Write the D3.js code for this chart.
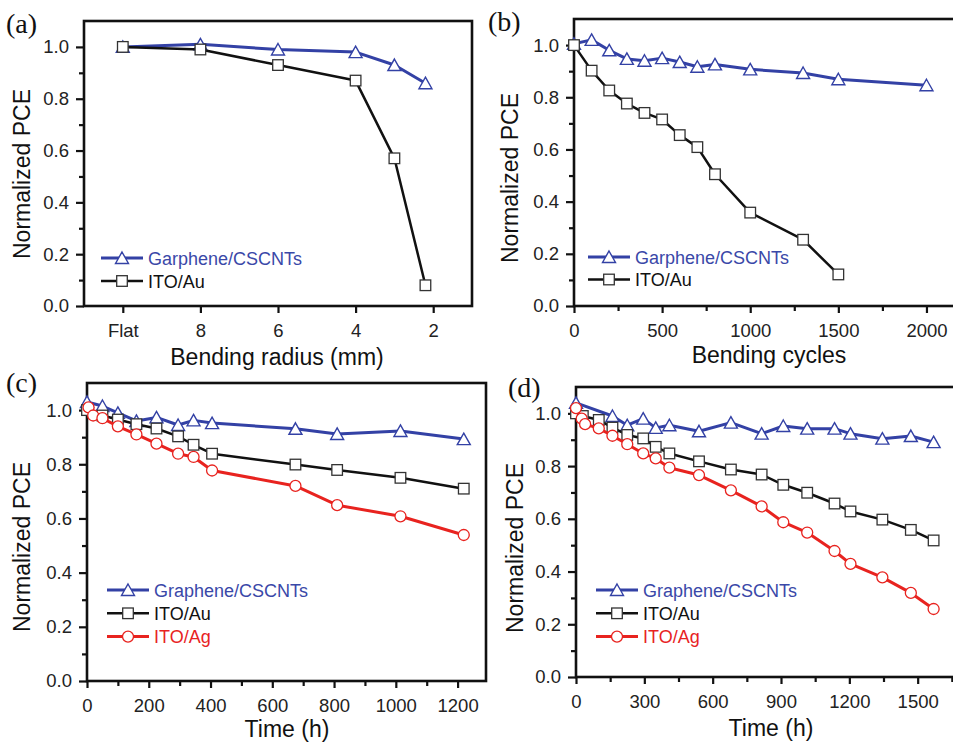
<!DOCTYPE html>
<html lang="en">
<head>
  <meta charset="UTF-8">
  <script src="https://cdn.jsdelivr.net/npm/d3@7"></script>
  <title>Normalized PCE</title>
  <style>
    body { margin: 0; background: #fff; }
    text { font-family: "Liberation Sans", Arial, sans-serif; }
  </style>
</head>
<body>
  <svg width="953" height="743"></svg>
<script>
  // ---- data ----
  // (a) bending radius, Flat drawn at 10 mm
  const radiusX = [10, 8, 6, 4, 3, 2.2];
  const radiusGraphene = [1.0, 1.01, 0.99, 0.98, 0.93, 0.86];
  const radiusITOAu = [1.0, 0.99, 0.93, 0.87, 0.57, 0.08];
  const radiusTicks = [10, 8, 6, 4, 2];
  const radiusTickLabels = ["Flat", "8", "6", "4", "2"];

  // (b) bending cycles
  const cyclesGrapheneX = [0, 100, 200, 300, 400, 500, 600, 700, 800, 1000, 1300, 1500, 2000];
  const cyclesGraphene = [1.005, 1.02, 0.98, 0.947, 0.94, 0.95, 0.935, 0.917, 0.926, 0.907, 0.893, 0.869, 0.846];
  const cyclesITOAuX = [0, 100, 200, 300, 400, 500, 600, 700, 800, 1000, 1300, 1500];
  const cyclesITOAu = [1.0, 0.902, 0.826, 0.776, 0.74, 0.715, 0.655, 0.609, 0.505, 0.358, 0.254, 0.121];
  const cyclesTicks = [0, 500, 1000, 1500, 2000];

  // (c) time
  const timeCX = [0, 50, 100, 160, 225, 295, 345, 405, 675, 810, 1015, 1220];
  const timeCGraphene = [1.03, 1.015, 0.99, 0.96, 0.973, 0.945, 0.962, 0.952, 0.931, 0.912, 0.923, 0.893];
  const timeCITOAu = [1.0, 0.98, 0.965, 0.948, 0.932, 0.903, 0.872, 0.839, 0.799, 0.779, 0.75, 0.71];
  const timeCAgX = [5, 20, 50, 100, 160, 225, 295, 345, 405, 675, 810, 1015, 1220];
  const timeCITOAg = [1.01, 0.98, 0.97, 0.94, 0.91, 0.876, 0.839, 0.827, 0.777, 0.72, 0.649, 0.608, 0.539];
  const timeCTicks = [0, 200, 400, 600, 800, 1000, 1200];

  // (d) time
  const timeDGrapheneX = [0, 160, 225, 295, 350, 410, 540, 680, 815, 910, 1015, 1135, 1205, 1345, 1470, 1570];
  const timeDGraphene = [1.04, 0.99, 0.955, 0.98, 0.945, 0.955, 0.932, 0.965, 0.923, 0.952, 0.942, 0.942, 0.923, 0.904, 0.914, 0.891];
  const timeDAuX = [0, 30, 100, 160, 225, 295, 350, 410, 540, 680, 815, 910, 1015, 1135, 1205, 1345, 1470, 1570];
  const timeDITOAu = [1.0, 0.99, 0.975, 0.946, 0.918, 0.905, 0.873, 0.848, 0.818, 0.787, 0.768, 0.729, 0.699, 0.658, 0.628, 0.597, 0.558, 0.518];
  const timeDAgX = [0, 25, 40, 100, 160, 225, 295, 350, 410, 540, 680, 815, 910, 1015, 1135, 1205, 1345, 1470, 1570];
  const timeDITOAg = [1.02, 0.98, 0.959, 0.943, 0.915, 0.883, 0.848, 0.829, 0.794, 0.766, 0.708, 0.647, 0.587, 0.548, 0.478, 0.429, 0.378, 0.319, 0.258];
  const timeDTicks = [0, 300, 600, 900, 1200, 1500];

  const yTicks = [0, 0.2, 0.4, 0.6, 0.8, 1.0];
  const yMinorTicks = [0.1, 0.3, 0.5, 0.7, 0.9];

  const BLUE = "#3341a5", BLACK = "#111", RED = "#e8231f";

  const svg = d3.select("svg");
  svg.append("rect").attr("width", 953).attr("height", 743).attr("fill", "#fff");

  const zip = (xs, ys) => xs.map((x, i) => ({ x: x, y: ys[i] }));

  // triangle centred on its bounding box, like Origin's symbol
  function marker(g, type, color, cx, cy) {
    if (type === "tri") {
      g.append("path")
        .attr("d", `M${cx},${cy - 6}L${cx + 6.5},${cy + 5.5}L${cx - 6.5},${cy + 5.5}Z`)
        .attr("fill", "#fff").attr("stroke", color).attr("stroke-width", 1.4);
    } else if (type === "sq") {
      g.append("rect")
        .attr("x", cx - 5.3).attr("y", cy - 5.3).attr("width", 10.6).attr("height", 10.6)
        .attr("fill", "#fff").attr("stroke", "#333").attr("stroke-width", 1.3);
    } else {
      g.append("circle")
        .attr("cx", cx).attr("cy", cy).attr("r", 5.5)
        .attr("fill", "#fff").attr("stroke", color).attr("stroke-width", 1.3);
    }
  }

  const seriesStyle = {
    graphene: { color: BLUE, width: 3, type: "tri" },
    au: { color: BLACK, width: 2.5, type: "sq" },
    ag: { color: RED, width: 3, type: "circ" }
  };

  function drawPanel(p) {
    const x = d3.scaleLinear().domain(p.xDomain).range([p.left, p.right]);
    const y = d3.scaleLinear().domain([0, 1.1]).range([p.bottom, p.top]);
    const g = svg.append("g");

    // x axis
    const xAxis = g.append("g")
      .attr("transform", `translate(0,${p.bottom})`)
      .call(d3.axisBottom(x).tickValues(p.xTicks).tickSize(7).tickPadding(11)
        .tickFormat((d, i) => p.xTickLabels ? p.xTickLabels[i] : d));
    xAxis.select(".domain").remove();
    xAxis.selectAll(".tick line").attr("stroke", "#111").attr("stroke-width", 2.2);
    xAxis.selectAll("text").attr("font-size", 18.5).attr("fill", "#222");
    if (p.xMinor) {
      g.append("g").attr("transform", `translate(0,${p.bottom})`)
        .call(d3.axisBottom(x).tickValues(p.xMinor).tickSize(5).tickFormat(""))
        .call(a => a.select(".domain").remove())
        .selectAll(".tick line").attr("stroke", "#111").attr("stroke-width", 2.2);
    }

    // y axis
    const yAxis = g.append("g")
      .attr("transform", `translate(${p.left},0)`)
      .call(d3.axisLeft(y).tickValues(yTicks).tickSize(8).tickPadding(7).tickFormat(d3.format(".1f")));
    yAxis.select(".domain").remove();
    yAxis.selectAll(".tick line").attr("stroke", "#111").attr("stroke-width", 2.2);
    yAxis.selectAll("text").attr("font-size", 18.5).attr("fill", "#222");
    g.append("g").attr("transform", `translate(${p.left},0)`)
      .call(d3.axisLeft(y).tickValues(yMinorTicks).tickSize(5).tickFormat(""))
      .call(a => a.select(".domain").remove())
      .selectAll(".tick line").attr("stroke", "#111").attr("stroke-width", 2.2);

    // frame
    g.append("rect")
      .attr("x", p.left).attr("y", p.top)
      .attr("width", p.right - p.left).attr("height", p.bottom - p.top)
      .attr("fill", "none").attr("stroke", "#111").attr("stroke-width", 2.6);

    // series
    const line = d3.line().x(d => x(d.x)).y(d => y(d.y));
    p.series.forEach(s => {
      const st = seriesStyle[s.key];
      g.append("path").datum(s.data)
        .attr("d", line).attr("fill", "none")
        .attr("stroke", st.color).attr("stroke-width", st.width)
        .attr("stroke-linejoin", "round");
      const mg = g.append("g");
      s.data.forEach(d => marker(mg, st.type, st.color, x(d.x), y(d.y)));
    });

    // legend
    p.series.forEach((s, i) => {
      const st = seriesStyle[s.key];
      const ly = p.legend.y + i * p.legend.dy;
      g.append("line")
        .attr("x1", p.legend.x).attr("x2", p.legend.x + 42)
        .attr("y1", ly).attr("y2", ly)
        .attr("stroke", st.color).attr("stroke-width", st.width);
      marker(g, st.type, st.color, p.legend.x + 21, ly);
      g.append("text")
        .attr("x", p.legend.x + 47).attr("y", ly + 6.5)
        .attr("font-size", 18)
        .attr("fill", s.key === "graphene" ? "#3a48a8" : st.color)
        .text(s.label);
    });

    // titles
    g.append("text")
      .attr("x", p.xTitle[0]).attr("y", p.xTitle[1])
      .attr("text-anchor", "middle").attr("font-size", 23).attr("fill", "#111")
      .text(p.xLabel);
    g.append("text")
      .attr("transform", `translate(${p.yTitle[0]},${p.yTitle[1]}) rotate(-90)`)
      .attr("text-anchor", "middle").attr("font-size", 23).attr("fill", "#111")
      .text("Normalized PCE");
    g.append("text")
      .attr("x", p.tag[0]).attr("y", p.tag[1])
      .style("font-family", "'Liberation Serif', 'Times New Roman', serif")
      .attr("font-size", 28).attr("fill", "#111")
      .text(p.tagText);
  }

  drawPanel({
    left: 84, right: 472, top: 21, bottom: 306,
    xDomain: [11, 1], xTicks: radiusTicks, xTickLabels: radiusTickLabels,
    series: [
      { key: "graphene", label: "Garphene/CSCNTs", data: zip(radiusX, radiusGraphene) },
      { key: "au", label: "ITO/Au", data: zip(radiusX, radiusITOAu) }
    ],
    legend: { x: 101, y: 258, dy: 23 },
    xLabel: "Bending radius (mm)", xTitle: [277, 365], yTitle: [30, 174],
    tag: [6, 33], tagText: "(a)"
  });

  drawPanel({
    left: 574, right: 961, top: 19, bottom: 306,
    xDomain: [0, 2196], xTicks: cyclesTicks, xMinor: [250, 750, 1250, 1750],
    series: [
      { key: "graphene", label: "Garphene/CSCNTs", data: zip(cyclesGrapheneX, cyclesGraphene) },
      { key: "au", label: "ITO/Au", data: zip(cyclesITOAuX, cyclesITOAu) }
    ],
    legend: { x: 588, y: 257, dy: 22.5 },
    xLabel: "Bending cycles", xTitle: [769, 363], yTitle: [518, 178],
    tag: [488, 31], tagText: "(b)"
  });

  drawPanel({
    left: 87, right: 486, top: 383, bottom: 681,
    xDomain: [0, 1292], xTicks: timeCTicks, xMinor: [100, 300, 500, 700, 900, 1100],
    series: [
      { key: "graphene", label: "Graphene/CSCNTs", data: zip(timeCX, timeCGraphene) },
      { key: "au", label: "ITO/Au", data: zip(timeCX, timeCITOAu) },
      { key: "ag", label: "ITO/Ag", data: zip(timeCAgX, timeCITOAg) }
    ],
    legend: { x: 107, y: 590, dy: 23.3 },
    xLabel: "Time (h)", xTitle: [287, 737], yTitle: [30, 547],
    tag: [6, 392], tagText: "(c)"
  });

  drawPanel({
    left: 576, right: 963, top: 387, bottom: 677,
    xDomain: [0, 1699], xTicks: timeDTicks, xMinor: [150, 450, 750, 1050, 1350, 1650],
    series: [
      { key: "graphene", label: "Graphene/CSCNTs", data: zip(timeDGrapheneX, timeDGraphene) },
      { key: "au", label: "ITO/Au", data: zip(timeDAuX, timeDITOAu) },
      { key: "ag", label: "ITO/Ag", data: zip(timeDAgX, timeDITOAg) }
    ],
    legend: { x: 596, y: 590, dy: 23.3 },
    xLabel: "Time (h)", xTitle: [771, 736], yTitle: [523, 548],
    tag: [508, 397], tagText: "(d)"
  });
</script>
</body>
</html>
